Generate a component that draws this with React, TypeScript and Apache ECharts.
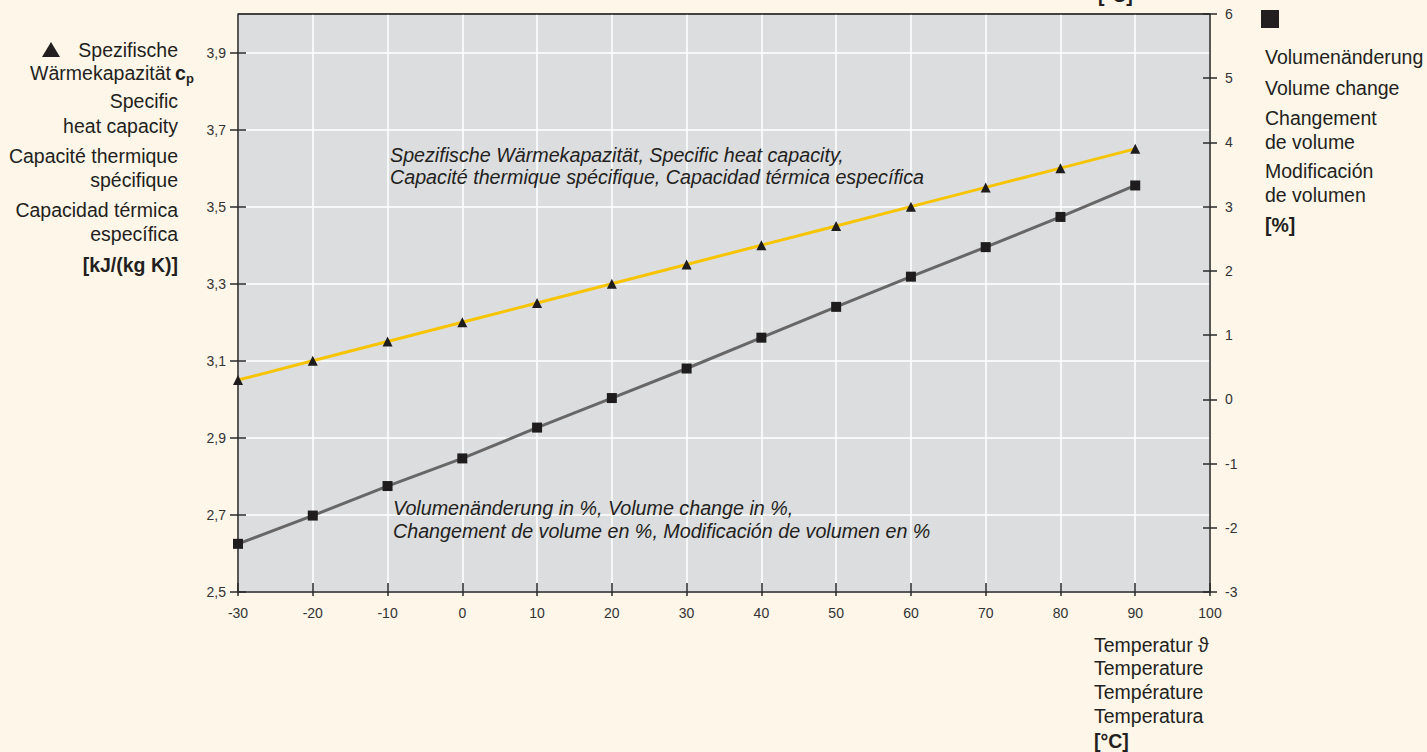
import React, { useEffect, useRef } from "react";
import * as echarts from "echarts";

const temperatures = [-30, -20, -10, 0, 10, 20, 30, 40, 50, 60, 70, 80, 90];
const heatCapacity = [3.05, 3.1, 3.15, 3.2, 3.25, 3.3, 3.35, 3.4, 3.45, 3.5, 3.55, 3.6, 3.65];
const volumeChange = [-2.25, -1.81, -1.35, -0.92, -0.44, 0.02, 0.48, 0.96, 1.44, 1.91, 2.37, 2.84, 3.33];
const leftTicks = [2.5, 2.7, 2.9, 3.1, 3.3, 3.5, 3.7, 3.9];

const FONT = '"Liberation Sans", Arial, Helvetica, sans-serif';
const NARROW = '"Liberation Sans Narrow", "Arial Narrow", "Liberation Sans", Arial, sans-serif';
const TXT = "#231F20";

const txt = (x: number, y: number, text: string, opts: any = {}) => ({
  type: "text",
  z: 100,
  style: {
    x,
    y,
    text,
    fill: opts.fill || TXT,
    font: `${opts.italic ? "italic " : ""}${opts.bold ? "bold " : ""}${opts.size || 19.5}px ${FONT}`,
    textAlign: opts.align || "left",
    align: opts.align || "left",
    textVerticalAlign: "middle",
    verticalAlign: "middle",
  },
});

export default function App() {
  const ref = useRef<HTMLDivElement>(null);
  useEffect(() => {
    document.body.style.margin = "0";
    const chart = echarts.init(ref.current!, null, { renderer: "svg" });
    const fmt = (v: number) => (Math.abs(v - 4.0) < 0.01 ? "" : v.toFixed(1).replace(".", ","));
    const axisLabelStyle = { color: "#333", fontSize: 14, fontFamily: NARROW };
    const option: any = {
      animation: false,
      backgroundColor: "#FDF6E9",
      grid: {
        left: 238,
        right: 217,
        top: 14,
        bottom: 160,
        show: true,
        backgroundColor: "#DCDDDF",
        borderColor: "#2a2a2a",
        borderWidth: 1,
      },
      xAxis: [
        {
          type: "value",
          min: -30,
          max: 100,
          interval: 10,
          position: "bottom",
          axisLine: { show: true, onZero: false, lineStyle: { color: "#2a2a2a", width: 1.5 } },
          axisTick: { show: true, length: 4, lineStyle: { color: "#2a2a2a", width: 1.5 } },
          axisLabel: { ...axisLabelStyle, margin: 14 },
          splitLine: { show: true, lineStyle: { color: "#FFFFFF", width: 1.5 } },
        },
        {
          type: "value",
          min: -30,
          max: 100,
          interval: 10,
          position: "bottom",
          axisLine: { show: false, onZero: false },
          axisTick: { show: true, inside: true, length: 9, lineStyle: { color: "#2a2a2a", width: 1.5 } },
          axisLabel: { show: false },
          splitLine: { show: false },
        },
      ],
      yAxis: [
        {
          type: "value",
          min: 2.5,
          max: 4.0,
          interval: 0.2,
          position: "left",
          axisLine: { show: true, onZero: false, lineStyle: { color: "#2a2a2a", width: 1.5 } },
          axisTick: { show: true, length: 8, customValues: leftTicks, lineStyle: { color: "#2a2a2a", width: 1.5 } },
          axisLabel: { ...axisLabelStyle, margin: 12, customValues: leftTicks, formatter: fmt },
          splitLine: { show: true, lineStyle: { color: "#FFFFFF", width: 1.5 } },
        },
        {
          type: "value",
          min: -3,
          max: 6,
          interval: 1,
          position: "right",
          axisLine: { show: true, onZero: false, lineStyle: { color: "#2a2a2a", width: 1.5 } },
          axisTick: { show: true, length: 7, lineStyle: { color: "#2a2a2a", width: 1.5 } },
          axisLabel: { ...axisLabelStyle, margin: 15 },
          splitLine: { show: false },
        },
        {
          type: "value",
          min: 2.5,
          max: 4.0,
          interval: 0.2,
          position: "left",
          axisLine: { show: false, onZero: false },
          axisTick: { show: true, inside: true, length: 8, customValues: leftTicks, lineStyle: { color: "#2a2a2a", width: 1.5 } },
          axisLabel: { show: false },
          splitLine: { show: false },
        },
        {
          type: "value",
          min: -3,
          max: 6,
          interval: 1,
          position: "right",
          axisLine: { show: false, onZero: false },
          axisTick: { show: true, inside: true, length: 7, lineStyle: { color: "#2a2a2a", width: 1.5 } },
          axisLabel: { show: false },
          splitLine: { show: false },
        },
      ],
      series: [
        {
          name: "Spezifische Wärmekapazität",
          type: "line",
          xAxisIndex: 0,
          yAxisIndex: 0,
          data: temperatures.map((t, i) => [t, heatCapacity[i]]),
          symbol: "triangle",
          symbolSize: 10,
          lineStyle: { color: "#F6C400", width: 3 },
          itemStyle: { color: "#1E1C1C" },
          z: 5,
        },
        {
          name: "Volumenänderung",
          type: "line",
          xAxisIndex: 0,
          yAxisIndex: 1,
          data: temperatures.map((t, i) => [t, volumeChange[i]]),
          symbol: "rect",
          symbolSize: 10,
          lineStyle: { color: "#676767", width: 3 },
          itemStyle: { color: "#1E1C1C" },
          z: 5,
        },
      ],
      graphic: [
        { type: "line", z: 50, shape: { x1: 238, y1: 14, x2: 1210, y2: 14 }, style: { stroke: "#2a2a2a", lineWidth: 1.5 } },
        // left legend
        { type: "polygon", z: 100, shape: { points: [[51, 42], [42, 57], [60, 57]] }, style: { fill: TXT } },
        txt(178, 50, "Spezifische", { align: "right" }),
        txt(171, 73, "Wärmekapazität", { align: "right" }),
        txt(175, 73, "c", { bold: true }),
        txt(186, 78, "p", { bold: true, size: 13 }),
        txt(178, 101, "Specific", { align: "right" }),
        txt(178, 126, "heat capacity", { align: "right" }),
        txt(178, 156, "Capacité thermique", { align: "right" }),
        txt(178, 180, "spécifique", { align: "right" }),
        txt(178, 210, "Capacidad térmica", { align: "right" }),
        txt(178, 234, "específica", { align: "right" }),
        txt(178, 265, "[kJ/(kg K)]", { align: "right", bold: true }),
        // right legend
        { type: "rect", z: 100, shape: { x: 1261, y: 10, width: 18, height: 18 }, style: { fill: TXT } },
        txt(1265, 57, "Volumenänderung"),
        txt(1265, 88, "Volume change"),
        txt(1265, 118, "Changement"),
        txt(1265, 142, "de volume"),
        txt(1265, 171, "Modificación"),
        txt(1265, 195, "de volumen"),
        txt(1265, 225, "[%]", { bold: true }),
        // x axis title
        txt(1098, -5, "[°C]", { bold: true }),
        txt(1094, 645, "Temperatur ϑ"),
        txt(1094, 668, "Temperature"),
        txt(1094, 692, "Température"),
        txt(1094, 716, "Temperatura"),
        txt(1094, 741, "[°C]", { bold: true }),
        // annotations
        txt(390, 155, "Spezifische Wärmekapazität, Specific heat capacity,", { italic: true, size: 19.7 }),
        txt(390, 177, "Capacité thermique spécifique, Capacidad térmica específica", { italic: true, size: 19.7 }),
        txt(393, 508, "Volumenänderung in %, Volume change in %,", { italic: true, size: 19.7 }),
        txt(393, 531, "Changement de volume en %, Modificación de volumen en %", { italic: true, size: 19.7 }),
      ],
    };
    chart.setOption(option);
    return () => chart.dispose();
  }, []);
  return (
    <div
      ref={ref}
      style={{ position: "absolute", left: 0, top: 0, width: 1427, height: 752, background: "#FDF6E9" }}
    />
  );
}
